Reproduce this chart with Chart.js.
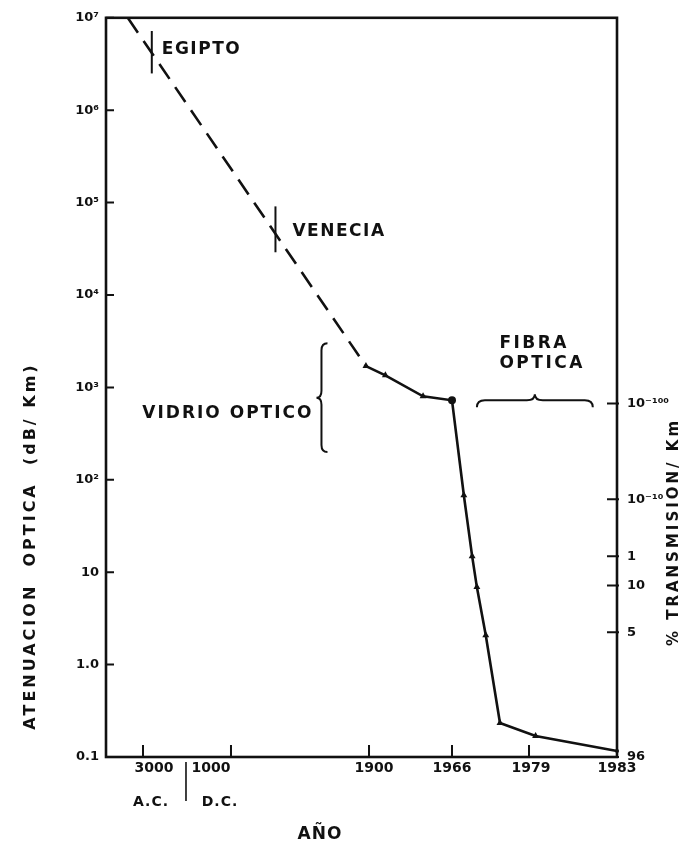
<!DOCTYPE html>
<html>
<head>
<meta charset="utf-8">
<script src="https://cdn.jsdelivr.net/npm/chart.js@4/dist/chart.umd.min.js"></script>
<style>
  html, body { margin: 0; padding: 0; background: #fff; }
  canvas { display: block; }
</style>
</head>
<body>
<canvas id="chart" width="691" height="847"></canvas>
<script>
// ---- Year axis (broken scale) ----
const yearTicks = [-3000, 1000, 1900, 1966, 1979, 1983];
const yearTickLabels = [['3000', 'A.C.'], ['1000', 'D.C.'], '1900', '1966', '1979', '1983'];

// ---- Attenuation axis (dB/Km) ----
const attenTicks = [1e7, 1e6, 1e5, 1e4, 1e3, 1e2, 10, 1, 0.1];
const attenTickLabels = ['10⁷', '10⁶', '10⁵', '10⁴', '10³', '10²', '10', '1.0', '0.1'];

// ---- Transmission scale (% / Km), placed at the matching attenuation ----
const transTickAtten = [671, 61.5, 14.9, 7.2, 2.24, 0.1];
const transTickLabels = ['10⁻¹⁰⁰', '10⁻¹⁰', '1', '10', '5', '96'];

// ---- Early glass (estimated trend) ----
const histYears = [-3700, 1880];
const histAtten = [1e7, 1700];

// ---- Measured: optical glass, then optical fibre ----
const measuredYears = [1880, 1913, 1943, 1966, 1968, 1969.4, 1970.2, 1971.7, 1974.1, 1979.3, 1983];
const measuredAtten = [1700, 1350, 800, 725, 68, 14.9, 6.9, 2.08, 0.233, 0.169, 0.116];

// ---- Layout of the broken year axis: year -> fraction of axis length ----
const AXIS_BREAK_YEARS = [-4700, -3000, 1000, 1900, 1966, 1979, 1983];
const AXIS_BREAK_FRAC  = [0, 0.0724, 0.2446, 0.5147, 0.6771, 0.8278, 1];

class BrokenYearScale extends Chart.LinearScale {
  _fracFor(v) {
    const ys = AXIS_BREAK_YEARS, ps = AXIS_BREAK_FRAC, n = ys.length - 1;
    if (v <= ys[0]) return ps[0] + (v - ys[0]) * (ps[1] - ps[0]) / (ys[1] - ys[0]);
    for (let i = 1; i <= n; i++) {
      if (v <= ys[i]) return ps[i - 1] + (v - ys[i - 1]) * (ps[i] - ps[i - 1]) / (ys[i] - ys[i - 1]);
    }
    return ps[n] + (v - ys[n]) * (ps[n] - ps[n - 1]) / (ys[n] - ys[n - 1]);
  }
  getPixelForValue(v) { return this.getPixelForDecimal(this._fracFor(v)); }
  getValueForPixel(p) {
    const d = this.getDecimalForPixel(p);
    const ys = AXIS_BREAK_YEARS, ps = AXIS_BREAK_FRAC;
    for (let i = 1; i < ys.length; i++) {
      if (d <= ps[i]) return ys[i - 1] + (d - ps[i - 1]) * (ys[i] - ys[i - 1]) / (ps[i] - ps[i - 1]);
    }
    return ys[ys.length - 1];
  }
}
BrokenYearScale.id = 'brokenYear';
BrokenYearScale.defaults = Chart.LinearScale.defaults;
Chart.register(BrokenYearScale);

const FONT = 'DejaVu Sans';
const INK = '#111';
Chart.defaults.font.family = FONT;
Chart.defaults.color = INK;

function pts(xs, ys) { return xs.map((x, i) => ({ x, y: ys[i] })); }

const pointStyles = measuredYears.map((y, i) => (i === 3 || i === measuredYears.length - 1) ? 'circle' : 'triangle');
const pointRadii = measuredYears.map((y, i) => i === measuredYears.length - 1 ? 2 : 4);

function txt(ctx, s, x, y, size, align, spacing) {
  ctx.save();
  ctx.font = 'bold ' + size + 'px "' + FONT + '"';
  ctx.fillStyle = INK;
  ctx.textAlign = align || 'left';
  ctx.textBaseline = 'middle';
  ctx.letterSpacing = (spacing || 0) + 'px';
  ctx.fillText(s, x, y);
  ctx.restore();
}

function vBrace(ctx, x, y1, y2, hook, depth) {
  const ym = (y1 + y2) / 2, r = 7;
  ctx.beginPath();
  ctx.moveTo(x + hook, y1);
  ctx.quadraticCurveTo(x, y1, x, y1 + r);
  ctx.lineTo(x, ym - r);
  ctx.quadraticCurveTo(x, ym, x - depth, ym);
  ctx.quadraticCurveTo(x, ym, x, ym + r);
  ctx.lineTo(x, y2 - r);
  ctx.quadraticCurveTo(x, y2, x + hook, y2);
  ctx.stroke();
}

function hBrace(ctx, x1, x2, y, hook, depth) {
  const xm = (x1 + x2) / 2, r = 8;
  ctx.beginPath();
  ctx.moveTo(x1, y + hook);
  ctx.quadraticCurveTo(x1, y, x1 + r, y);
  ctx.lineTo(xm - r, y);
  ctx.quadraticCurveTo(xm, y, xm, y - depth);
  ctx.quadraticCurveTo(xm, y, xm + r, y);
  ctx.lineTo(x2 - r, y);
  ctx.quadraticCurveTo(x2, y, x2, y + hook);
  ctx.stroke();
}

// Frame, inward tick marks, year labels, titles and annotations
const decorations = {
  id: 'decorations',
  afterDraw(chart) {
    const { ctx, chartArea: a, scales } = chart;
    const X = scales.x, Y = scales.y, Y2 = scales.y2;
    ctx.save();
    ctx.strokeStyle = INK;
    ctx.lineCap = 'butt';

    // frame
    ctx.lineWidth = 2.6;
    ctx.strokeRect(a.left, a.top, a.right - a.left, a.bottom - a.top);

    // tick marks pointing into the plot
    ctx.lineWidth = 2;
    ctx.beginPath();
    Y.ticks.forEach(t => { const p = Y.getPixelForValue(t.value); ctx.moveTo(a.left, p); ctx.lineTo(a.left + 8, p); });
    Y2.ticks.forEach(t => { const p = Y2.getPixelForValue(t.value); ctx.moveTo(a.right + 2, p); ctx.lineTo(a.right - 10, p); });
    X.ticks.forEach(t => { const p = X.getPixelForValue(t.value); ctx.moveTo(p, a.bottom); ctx.lineTo(p, a.bottom - 12); });
    ctx.stroke();

    // year labels
    const dx = [[11, 8], [-20, -11], 5, 0, 2, 0];
    yearTicks.forEach((yr, i) => {
      const p = X.getPixelForValue(yr);
      const lab = yearTickLabels[i];
      if (Array.isArray(lab)) {
        txt(ctx, lab[0], p + dx[i][0], a.bottom + 11, 14, 'center', 0);
        txt(ctx, lab[1], p + dx[i][1], a.bottom + 45, 14, 'center', 1);
      } else {
        txt(ctx, lab, p + dx[i], a.bottom + 11, 14, 'center', 0);
      }
    });
    // A.C. | D.C. divider
    const sep = X.getPixelForValue(1000) - 45;
    ctx.lineWidth = 1.6;
    ctx.beginPath(); ctx.moveTo(sep, a.bottom + 5); ctx.lineTo(sep, a.bottom + 44); ctx.stroke();

    // axis titles
    txt(ctx, 'AÑO', 320, 835, 17, 'center', 1);
    ctx.save(); ctx.translate(31, 546); ctx.rotate(-Math.PI / 2);
    txt(ctx, 'ATENUACION  OPTICA  (dB/ Km)', 0, 0, 16, 'center', 3);
    ctx.restore();
    ctx.save(); ctx.translate(674, 532); ctx.rotate(-Math.PI / 2);
    txt(ctx, '% TRANSMISION/ Km', 0, 0, 15, 'center', 3);
    ctx.restore();

    // EGIPTO / VENECIA markers on the trend line
    ctx.lineWidth = 2;
    const ex = X.getPixelForValue(-2600);
    ctx.beginPath(); ctx.moveTo(ex, Y.getPixelForValue(7.2e6)); ctx.lineTo(ex, Y.getPixelForValue(2.5e6)); ctx.stroke();
    txt(ctx, 'EGIPTO', ex + 10, Y.getPixelForValue(4.5e6), 17, 'left', 1.5);
    const vx = X.getPixelForValue(1290);
    ctx.beginPath(); ctx.moveTo(vx, Y.getPixelForValue(9.1e4)); ctx.lineTo(vx, Y.getPixelForValue(2.9e4)); ctx.stroke();
    txt(ctx, 'VENECIA', vx + 17, Y.getPixelForValue(4.85e4), 17, 'left', 1.5);

    // optical glass bracket
    const gx = X.getPixelForValue(1590);
    vBrace(ctx, gx, Y.getPixelForValue(3000), Y.getPixelForValue(200), 6, 5);
    txt(ctx, 'VIDRIO OPTICO', gx - 8, Y.getPixelForValue(524), 17, 'right', 2);

    // optical fibre bracket
    const f1 = X.getPixelForValue(1970.2), f2 = X.getPixelForValue(1981.9), fy = Y.getPixelForValue(725);
    hBrace(ctx, f1, f2, fy, 7, 6);
    const fx = X.getPixelForValue(1974);
    txt(ctx, 'FIBRA', fx, Y.getPixelForValue(2990), 17, 'left', 2.5);
    txt(ctx, 'OPTICA', fx, Y.getPixelForValue(1820), 17, 'left', 2.5);

    ctx.restore();
  }
};

new Chart(document.getElementById('chart'), {
  type: 'line',
  data: {
    datasets: [
      {
        label: 'trend',
        data: pts(histYears, histAtten),
        borderColor: INK,
        borderWidth: 2.6,
        borderDash: [18, 10],
        pointRadius: 0,
        fill: false,
        clip: false
      },
      {
        label: 'measured',
        data: pts(measuredYears, measuredAtten),
        borderColor: INK,
        backgroundColor: INK,
        borderWidth: 2.6,
        pointStyle: pointStyles,
        pointRadius: pointRadii,
        pointBorderWidth: 0,
        fill: false,
        clip: false
      }
    ]
  },
  options: {
    responsive: false,
    animation: false,
    events: [],
    layout: { padding: { top: 17, left: 0, right: 0, bottom: 0 } },
    plugins: { legend: { display: false }, tooltip: { enabled: false } },
    scales: {
      x: {
        type: 'brokenYear',
        min: AXIS_BREAK_YEARS[0],
        max: AXIS_BREAK_YEARS[AXIS_BREAK_YEARS.length - 1],
        grid: { display: false, drawTicks: false },
        border: { display: false },
        ticks: { display: false },
        afterBuildTicks: s => { s.ticks = yearTicks.map(v => ({ value: v })); },
        afterFit: s => { s.height = 90; }
      },
      y: {
        type: 'logarithmic',
        position: 'left',
        min: 0.1,
        max: 1e7,
        grid: { display: false, drawTicks: false },
        border: { display: false },
        ticks: {
          padding: 7,
          font: { size: 13, weight: 'bold' },
          color: INK,
          callback: (v, i) => attenTickLabels[i]
        },
        afterBuildTicks: s => { s.ticks = attenTicks.map(v => ({ value: v })); },
        afterFit: s => { s.width = 106; }
      },
      y2: {
        type: 'logarithmic',
        position: 'right',
        min: 0.1,
        max: 1e7,
        grid: { display: false, drawTicks: false },
        border: { display: false },
        ticks: {
          padding: 10,
          font: { size: 13, weight: 'bold' },
          color: INK,
          callback: (v, i) => transTickLabels[i]
        },
        afterBuildTicks: s => { s.ticks = transTickAtten.map(v => ({ value: v })); },
        afterFit: s => { s.width = 74; }
      }
    }
  },
  plugins: [decorations]
});
</script>
</body>
</html>
